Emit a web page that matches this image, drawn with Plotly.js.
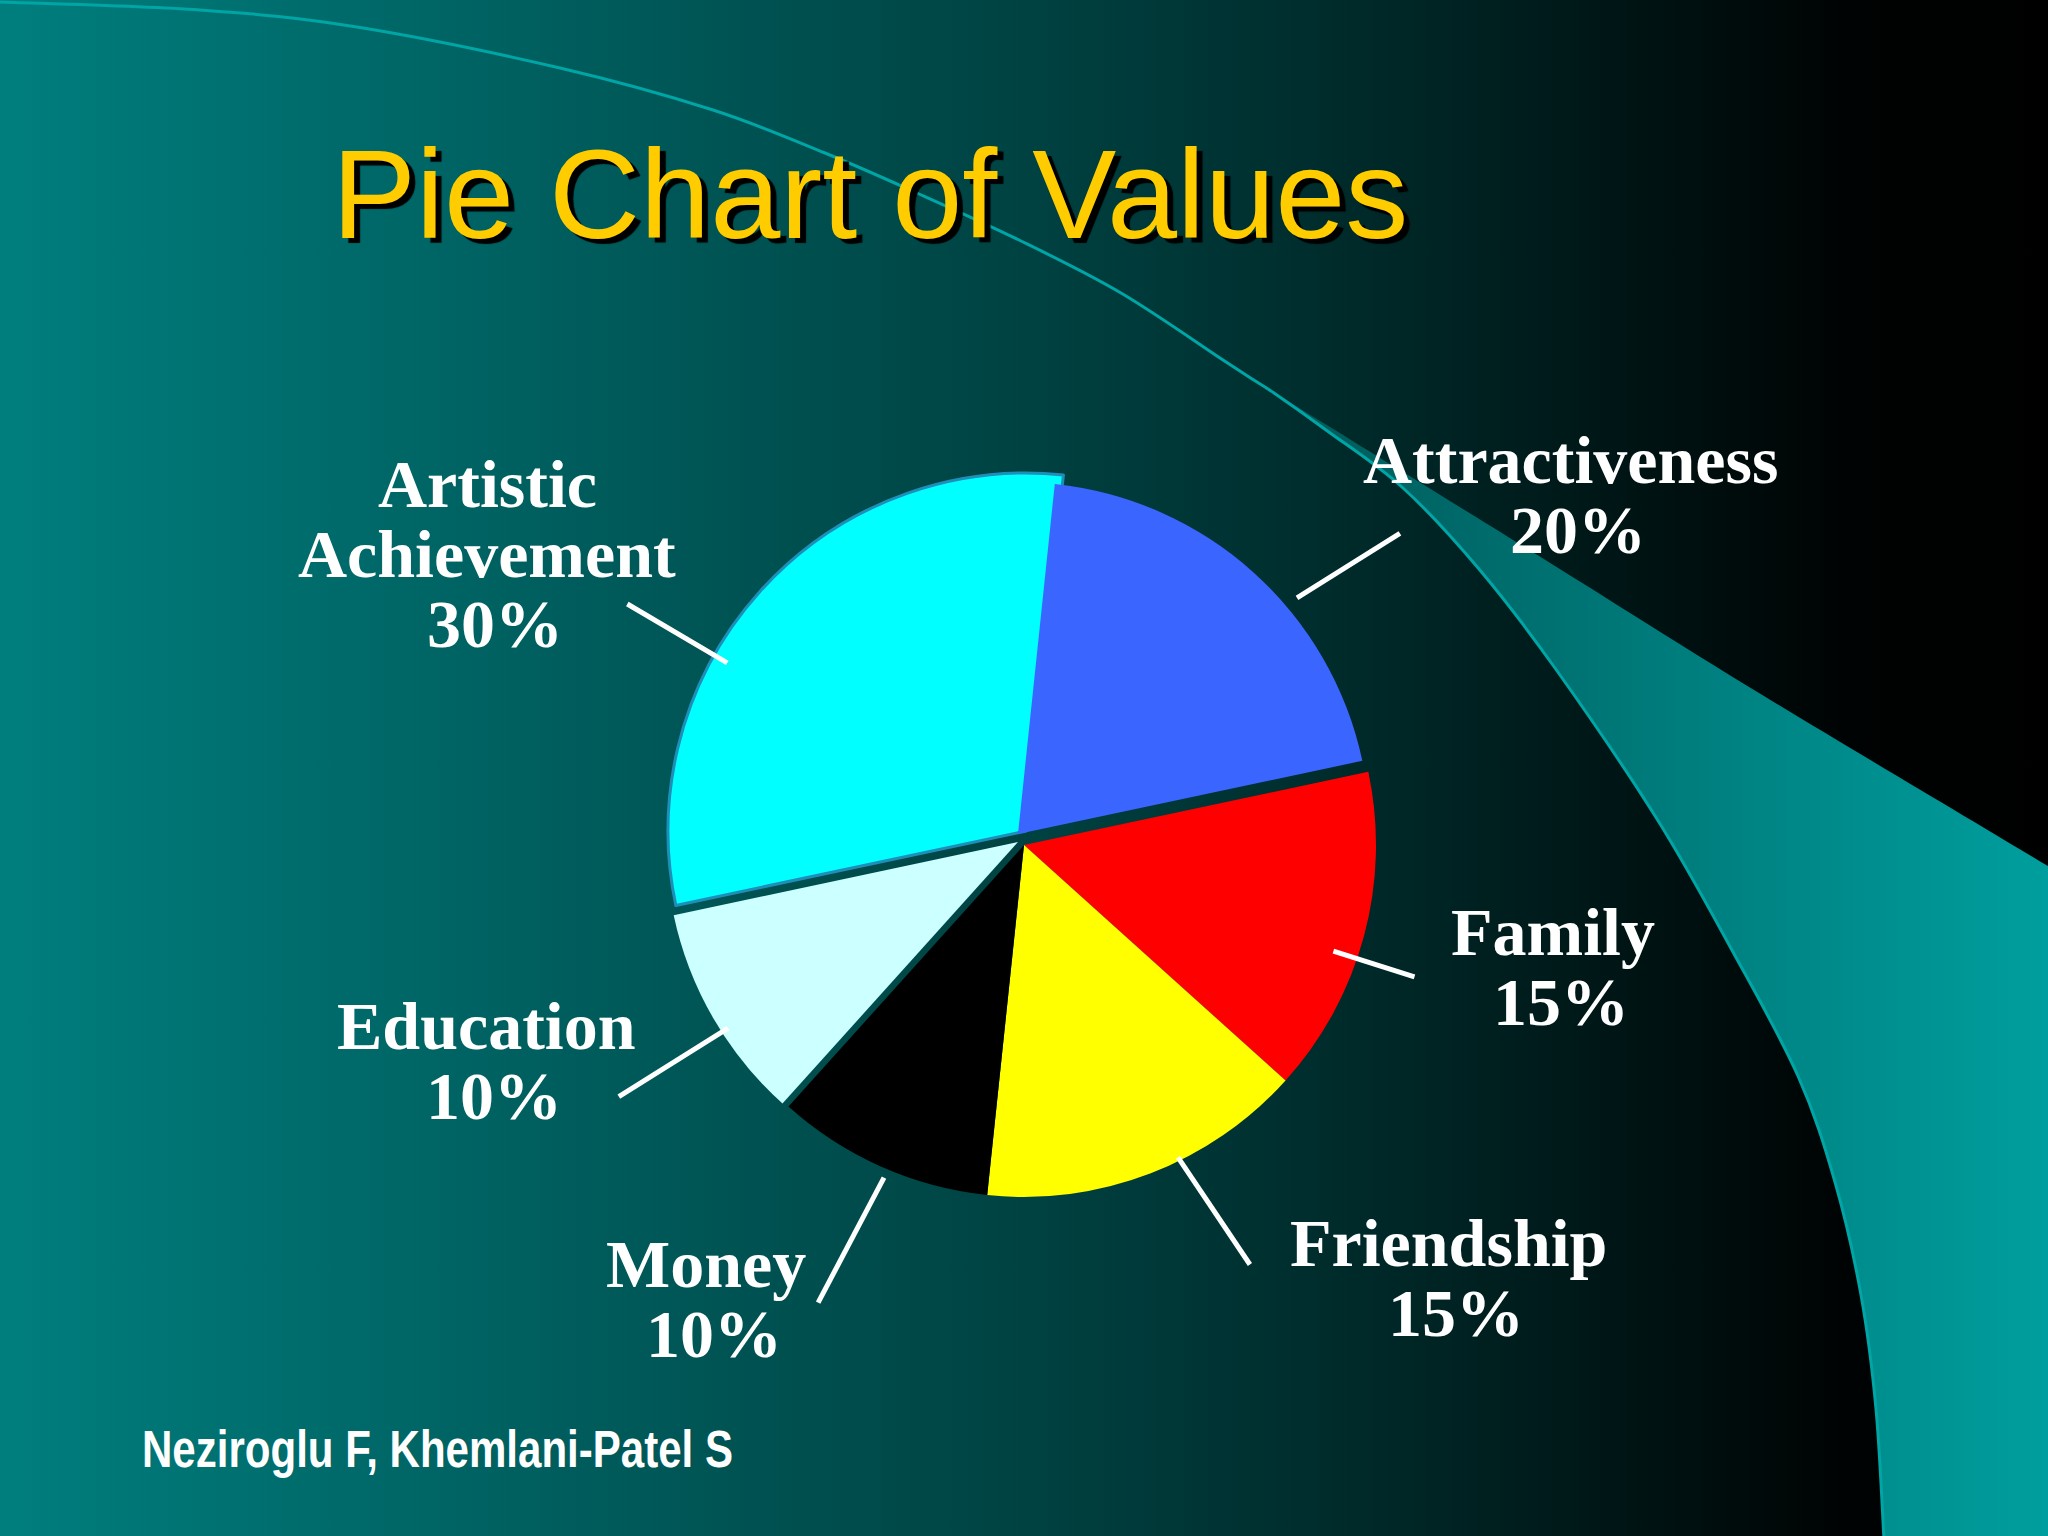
<!DOCTYPE html>
<html><head><meta charset="utf-8">
<script src="https://cdn.plot.ly/plotly-3.0.1.min.js"></script>
<style>
html,body{margin:0;padding:0;background:#000;}
#wrap{position:relative;width:2048px;height:1536px;overflow:hidden;}
#bg{position:absolute;left:0;top:0;}
#chart{position:absolute;left:0;top:0;width:2048px;height:1536px;}
</style></head><body>
<div id="wrap"><svg id="bg" width="2048" height="1536" xmlns="http://www.w3.org/2000/svg"></svg><div id="chart"></div></div>
<script>
// ---- data ----
const labels = ['Attractiveness', 'Family', 'Friendship', 'Money', 'Education', 'Artistic Achievement'];
const values = [20, 15, 15, 10, 10, 30];
const labelLines = [['Attractiveness'], ['Family'], ['Friendship'], ['Money'], ['Education'], ['Artistic', 'Achievement']];
const titleText = 'Pie Chart of Values';
const creditText = 'Neziroglu F, Khemlani-Patel S';

// ---- styles / layout ----
const W = 2048, H = 1536;
const sliceColors = ['#3A66FF', '#FF0000', '#FFFF00', '#000000', '#CCFFFF', '#00FFFF'];
// exploded pieces of the pie (slice indices, centre in px, radius in px); first drawn first
const pieces = [
  {members: [5], c: [1026, 831], r: 358},
  {members: [0], c: [1018, 834], r: 352},
  {members: [4], c: [1018, 842], r: 352},
  {members: [1, 2, 3], c: [1024, 845], r: 352}
];
const rotation = 6;
const leaderCenter = [1028, 840];
const leaderStyle = [
  {n0: 6, n1: 8.5, r0: 362, r1: 482}, {n0: 5, n1: 4.5, r0: 325, r1: 410}, {n0: -4.3, n1: -6.6, r0: 351, r1: 479},
  {n0: -0.9, n1: 0.4, r0: 367, r1: 508}, {n0: -2.1, n1: -2.1, r0: 354, r1: 483}, {n0: -11.5, n1: -11.5, r0: 349, r1: 465}];
const labelPos = [[1570, 483], [1553, 955], [1448, 1266], [706, 1287], [486, 1049], [487, 507]];
const pctShift = 8;
const lineGap = 70;
const labelFont = {family: 'Liberation Serif, Times New Roman, serif', size: 68, color: '#FFFFFF', weight: 700};

// ---- background (slide decoration) ----
function smooth(pts, move) {
  let d = (move ? 'M' : 'L') + pts[0][0] + ',' + pts[0][1];
  for (let i = 0; i < pts.length - 1; i++) {
    const p0 = pts[i - 1] || pts[i], p1 = pts[i], p2 = pts[i + 1], p3 = pts[i + 2] || p2;
    const c1 = [p1[0] + (p2[0] - p0[0]) / 6, p1[1] + (p2[1] - p0[1]) / 6];
    const c2 = [p2[0] - (p3[0] - p1[0]) / 6, p2[1] - (p3[1] - p1[1]) / 6];
    d += ' C' + c1.join(',') + ' ' + c2.join(',') + ' ' + p2.join(',');
  }
  return d;
}
const topLine = [[0, 2], [200, 10], [357, 27], [560, 68], [713, 110], [825, 153], [917, 193], [1019, 240], [1121, 293], [1223, 360], [1249, 377]];
const arcEdge = [[1249, 377], [1274, 393], [1326, 430], [1403, 488], [1479, 569], [1555, 668], [1657, 819], [1733, 952], [1798, 1076], [1835, 1182], [1861, 1295], [1876, 1409], [1884, 1540]];
const bandTop = [[1249, 377], [1403, 472], [1555, 566], [1759, 693], [2048, 866]];
const bandPath = smooth(bandTop, true) + ' L2048,1540 L1884,1540 ' + smooth(arcEdge.slice().reverse(), false) + ' Z';
const linePath = smooth(topLine.concat(arcEdge.slice(1)), true);
document.getElementById('bg').innerHTML =
  '<defs><linearGradient id="g1" x1="0" y1="0" x2="1" y2="0">' +
  '<stop offset="0" stop-color="rgb(0,126,126)"/><stop offset="0.5" stop-color="rgb(0,66,66)"/>' +
  '<stop offset="0.7" stop-color="rgb(0,36,36)"/><stop offset="0.9" stop-color="rgb(0,3,3)"/><stop offset="1" stop-color="#000"/></linearGradient>' +
  '<linearGradient id="g2" gradientUnits="userSpaceOnUse" x1="1249" y1="0" x2="2048" y2="0">' +
  '<stop offset="0" stop-color="rgb(0,86,86)"/><stop offset="1" stop-color="rgb(0,158,158)"/></linearGradient></defs>' +
  '<rect width="2048" height="1536" fill="url(#g1)"/>' +
  '<path d="' + bandPath + '" fill="url(#g2)"/>' +
  '<path d="' + linePath + '" fill="none" stroke="rgb(0,165,165)" stroke-width="3"/>';

// ---- pie traces (one per exploded piece) ----
const traces = pieces.map(pc => ({
  type: 'pie', labels: labels, values: values, sort: false, direction: 'clockwise', rotation: rotation,
  textinfo: 'none', hoverinfo: 'label+percent', showlegend: false,
  marker: {
    colors: sliceColors.map((col, i) => pc.members.includes(i) ? col : 'rgba(0,0,0,0)'),
    line: {
      color: labels.map((l, i) => i === 5 ? '#1E8FB8' : 'rgba(0,0,0,0)'),
      width: labels.map((l, i) => (i === 5 && pc.members.includes(i)) ? 3 : 0)
    }
  },
  domain: {x: [(pc.c[0] - pc.r) / W, (pc.c[0] + pc.r) / W], y: [1 - (pc.c[1] + pc.r) / H, 1 - (pc.c[1] - pc.r) / H]}
}));

// ---- leader lines and labels ----
const total = values.reduce((a, b) => a + b, 0);
const shapes = [], annotations = [];
let acc = 0;
values.forEach((v, i) => {
  const mid = rotation + (acc + v / 2) / total * 360;
  acc += v;
  const ls = leaderStyle[i];
  const p = (r, n) => {
    const a = (mid + n) * Math.PI / 180;
    return [leaderCenter[0] + r * Math.sin(a), leaderCenter[1] - r * Math.cos(a)];
  };
  const s = p(ls.r0, ls.n0), e = p(ls.r1, ls.n1);
  shapes.push({type: 'line', xref: 'paper', yref: 'paper', x0: s[0] / W, y0: 1 - s[1] / H, x1: e[0] / W, y1: 1 - e[1] / H,
    line: {color: '#FFFFFF', width: 5}});
  const lines = labelLines[i].concat([Math.round(v / total * 100) + '%']);
  lines.forEach((t, k) => {
    const base = labelPos[i][1] + k * lineGap;
    const cx = labelPos[i][0] + (k === lines.length - 1 ? pctShift : 0);
    annotations.push({text: t, xref: 'paper', yref: 'paper', x: cx / W, y: 1 - (base - 0.3375 * labelFont.size) / H,
      xanchor: 'center', yanchor: 'middle', showarrow: false, font: labelFont});
  });
});
const creditLeft = 142, creditWidth = 591, creditSize = 51;
annotations.push({text: creditText, xref: 'paper', yref: 'paper', x: (creditLeft + creditWidth / 2) / W, y: 1 - (1467 - 0.3465 * creditSize) / H,
  xanchor: 'center', yanchor: 'middle', showarrow: false,
  font: {family: 'Liberation Sans, Arial, sans-serif', size: creditSize, color: '#FFFFFF', weight: 700}});

const layout = {
  width: W, height: H, margin: {l: 0, r: 0, t: 0, b: 0},
  paper_bgcolor: 'rgba(0,0,0,0)', plot_bgcolor: 'rgba(0,0,0,0)',
  title: {text: titleText, xref: 'container', yref: 'container', x: 332 / W, xanchor: 'left', y: 1 - 194 / H, yanchor: 'middle',
    font: {family: 'Liberation Sans, Arial, sans-serif', size: 126, color: '#FFCC00', shadow: '6px 5px 1px #000000'}},
  shapes: shapes, annotations: annotations
};
Plotly.newPlot('chart', traces, layout, {displayModeBar: false, staticPlot: true}).then(gd => {
  // the credit line is set in a narrow face on the slide: condense the glyphs to that width
  gd.querySelectorAll('.annotation-text').forEach(t => {
    if (t.textContent === creditText) {
      t.setAttribute('textLength', creditWidth);
      t.setAttribute('lengthAdjust', 'spacingAndGlyphs');
    }
  });
});
</script>
</body></html>
